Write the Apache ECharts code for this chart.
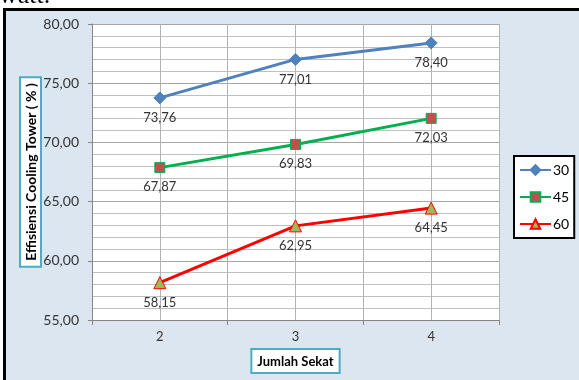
<!DOCTYPE html>
<html>
<head>
<meta charset="utf-8">
<script src="https://cdn.jsdelivr.net/npm/echarts@6/dist/echarts.min.js"></script>
<style>
html,body{margin:0;padding:0;background:#fff;}
#c{width:579px;height:380px;}
</style>
</head>
<body>
<div id="c"></div>
<script>
const categories = ['2', '3', '4'];
const seriesNames = ['30', '45', '60'];
const s30 = [73.76, 77.01, 78.40];
const s45 = [67.87, 69.83, 72.03];
const s60 = [58.15, 62.95, 64.45];
const yTicks = [55, 60, 65, 70, 75, 80];

const FONT = 'Lato, "Open Sans", sans-serif';
const fmt = v => Number(v).toFixed(2).replace('.', ',');

const chart = echarts.init(document.getElementById('c'), null, {renderer: 'canvas'});

function lineSeries(name, data, lineColor, symbol, size, fill, border) {
  return {
    name: name,
    type: 'line',
    xAxisIndex: 0,
    data: data,
    symbol: symbol,
    symbolSize: size,
    lineStyle: {color: lineColor, width: 3},
    itemStyle: {color: fill, borderColor: border, borderWidth: 1},
    label: {
      show: true, position: 'bottom', distance: 7,
      formatter: p => fmt(p.value),
      fontFamily: FONT, fontSize: 13, color: '#333'
    },
    emphasis: {disabled: true},
    animation: false
  };
}

chart.setOption({
  animation: false,
  graphic: [
    {type: 'rect', shape: {x: 4.5, y: 9.5, width: 600, height: 400},
     style: {fill: '#dce6f1', stroke: '#000', lineWidth: 3}, z: -10},
    {type: 'text', left: -1, top: -17,
     style: {text: 'watt.', font: '26px "Liberation Serif", serif', fill: '#000'}, z: -5}
  ],
  grid: {left: 92, top: 24, right: 80, bottom: 60, show: true,
         backgroundColor: '#fff', borderWidth: 0, containLabel: false, outerBoundsMode: 'none'},
  legend: {
    orient: 'vertical', left: 514, top: 156,
    data: seriesNames,
    itemWidth: 31, itemHeight: 12, itemGap: 13,
    padding: [7, 5, 7, 5],
    borderColor: '#000', borderWidth: 2, backgroundColor: '#fff',
    textStyle: {fontFamily: FONT, fontSize: 14, color: '#000', padding: [0, 0, 0, -3]}
  },
  xAxis: [{
    type: 'category', data: categories, boundaryGap: true,
    name: 'Jumlah Sekat', nameLocation: 'middle', nameGap: 30, nameMoveOverlap: false,
    nameTextStyle: {fontFamily: FONT, fontSize: 13, fontWeight: 'bold', color: '#000',
      backgroundColor: '#fff', borderColor: '#4bacc6', borderWidth: 2, padding: [5, 5, 4, 5]},
    axisLine: {lineStyle: {color: '#868686'}},
    axisTick: {show: true, length: 5, lineStyle: {color: '#868686'}},
    axisLabel: {fontFamily: FONT, fontSize: 13, color: '#333', margin: 10},
    splitLine: {show: false}
  }, {
    type: 'value', min: 1.5, max: 4.5, interval: 0.5, show: true,
    position: 'bottom',
    axisLine: {show: false}, axisTick: {show: false}, axisLabel: {show: false},
    splitLine: {show: true, lineStyle: {color: '#b3b3b3', width: 1}}
  }],
  yAxis: {
    type: 'value', min: 55, max: 80, interval: 5,
    name: 'Effisiensi Cooling Tower ( % )', nameLocation: 'middle', nameGap: 52, nameRotate: 90,
    nameMoveOverlap: false,
    nameTextStyle: {fontFamily: FONT, fontSize: 14, fontWeight: 'bold', color: '#000',
      backgroundColor: '#fff', borderColor: '#4bacc6', borderWidth: 2, padding: [3, 5, 2, 5]},
    axisLine: {show: true, lineStyle: {color: '#868686'}},
    axisTick: {show: true, length: 4, lineStyle: {color: '#868686'}},
    axisLabel: {fontFamily: FONT, fontSize: 14, color: '#333', margin: 13,
      formatter: v => yTicks.includes(v) ? fmt(v) : ''},
    splitLine: {show: true, lineStyle: {color: '#a6a6a6'}},
    minorTick: {show: false, splitNumber: 5},
    minorSplitLine: {show: true, lineStyle: {color: '#bfbfbf'}}
  },
  series: [
    lineSeries(seriesNames[0], s30, '#4f81bd', 'diamond', 12, '#4f81bd', '#4f81bd'),
    lineSeries(seriesNames[1], s45, '#00b050', 'rect', 10, '#c0504d', '#00b050'),
    lineSeries(seriesNames[2], s60, '#ff0000', 'triangle', 12, '#9bbb59', '#ff0000')
  ]
});
</script>
</body>
</html>
